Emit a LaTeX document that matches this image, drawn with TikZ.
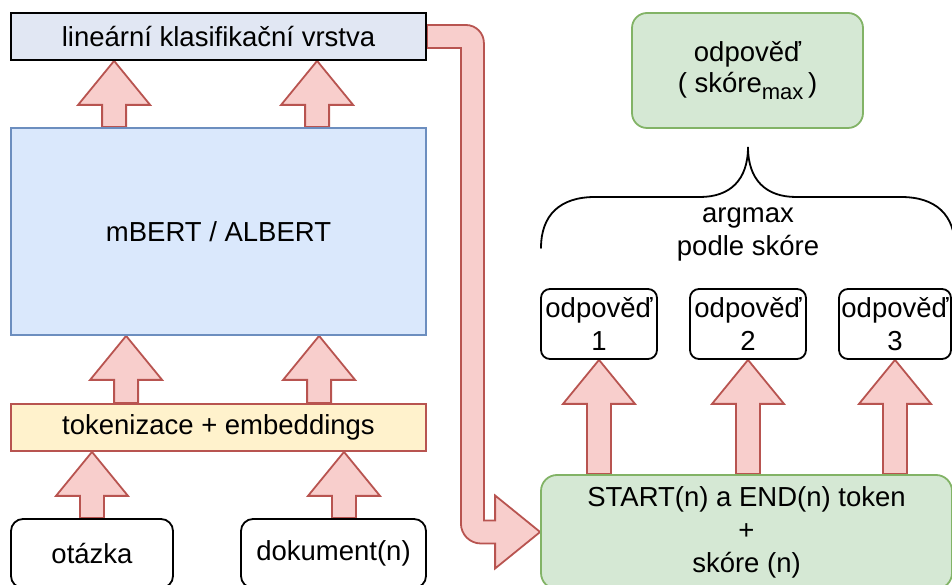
\documentclass[tikz,border=0pt]{standalone}
\usepackage{fontspec}
\setmainfont{Liberation Sans}
\usetikzlibrary{calc}
\pgfdeclarelayer{bg}
\pgfsetlayers{bg,main}

\definecolor{linfill}{HTML}{E1E7F3}
\definecolor{bluefill}{HTML}{DAE8FC}
\definecolor{bluedraw}{HTML}{6C8EBF}
\definecolor{yellowfill}{HTML}{FFF2CC}
\definecolor{redfill}{HTML}{F8CECC}
\definecolor{reddraw}{HTML}{B85450}
\definecolor{greenfill}{HTML}{D5E8D4}
\definecolor{greendraw}{HTML}{82B366}

% vertical block arrow: #1 = foot of the shaft, #2 = tip
\newcommand\blockup[2]{%
  \path[blockarrow] let \p1=#1, \p2=#2 in
    (\x1-12pt,\y1) -- (\x1-12pt,\y2-44pt) -- (\x1-36pt,\y2-44pt) -- (\x1,\y2)
    -- (\x1+36pt,\y2-44pt) -- (\x1+12pt,\y2-44pt) -- (\x1+12pt,\y1) -- cycle;}

% lowered, smaller label text
\newcommand\lowidx[1]{\raisebox{-7pt}{\fontsize{22}{22}\selectfont #1}}

\begin{document}
\begin{tikzpicture}[x=1pt,y=1pt,
  every node/.style={font=\fontsize{27.5}{33}\selectfont, align=center, inner sep=0pt, text=black},
  sqbox/.style={draw, line width=1.8pt},
  rbox/.style={draw, line width=1.8pt, rounded corners=#1},
  blockarrow/.style={draw=reddraw, fill=redfill, line width=1.8pt, line join=miter}]
\useasboundingbox (0,0) rectangle (952,585);

% left column
\node[sqbox, fill=linfill, minimum width=415pt, minimum height=47pt] (lin) at (218.5,548.5) {lineární klasifikační vrstva};
\node[sqbox, draw=bluedraw, fill=bluefill, minimum width=415pt, minimum height=207pt] (mbert) at (218.5,353.5) {mBERT / ALBERT};
\node[sqbox, draw=reddraw, fill=yellowfill, minimum width=415pt, minimum height=47pt] (tok) at (218.5,157.5) {tokenizace + embeddings};
\node[rbox=12pt, minimum width=162pt, minimum height=69pt] (otazka) at (92,31.5) {otázka};
\node[rbox=12pt, minimum width=185pt, minimum height=69pt] (dok) at (333.5,31.5) {dokument(n)};

% right column
\node[rbox=16pt, draw=greendraw, fill=greenfill, minimum width=411pt, minimum height=114pt] (start) at (746.5,53)
  {START(n) a END(n) token\\+\\skóre (n)};
\node[rbox=9pt, minimum width=116pt, minimum height=70pt] (o1) at (599,261) {odpověď\\1};
\node[rbox=9pt, minimum width=116pt, minimum height=70pt] (o2) at (748,261) {odpověď\\2};
\node[rbox=9pt, minimum width=112pt, minimum height=70pt] (o3) at (895,261) {odpověď\\3};
\node[rbox=15pt, draw=greendraw, fill=greenfill, minimum width=231pt, minimum height=115pt] (res) at (747.5,514.5)
  {odpověď\\[-2pt]( skóre\lowidx{max}\,)};
\node (argmax) at (748,351) {argmax\\podle skóre};

% curly brace gathering the candidate answers
\draw[line width=1.8pt, line cap=round]
  (541,337) .. controls (541,370) and (560,388) .. (595,388) -- (700,388)
  .. controls (730,388) and (748,405) .. (748,438)
  .. controls (748,405) and (766,388) .. (796,388) -- (901,388)
  .. controls (936,388) and (955,370) .. (955,337);

\begin{pgfonlayer}{bg}
  \blockup{([xshift=104pt]mbert.north west)}{([xshift=104pt]lin.south west)}
  \blockup{([xshift=307pt]mbert.north west)}{([xshift=307pt]lin.south west)}
  \blockup{([xshift=116pt]tok.north west)}{([xshift=116pt]mbert.south west)}
  \blockup{([xshift=309pt]tok.north west)}{([xshift=309pt]mbert.south west)}
  \blockup{(otazka.north)}{(otazka.north |- tok.south)}
  \blockup{([xshift=10.5pt]dok.north)}{([xshift=10.5pt]dok.north |- tok.south)}
  \blockup{(o1.south |- start.north)}{(o1.south)}
  \blockup{(o2.south |- start.north)}{(o2.south)}
  \blockup{(o3.south |- start.north)}{(o3.south)}
  % bent arrow from the classifier to the span output
  \path[blockarrow] let \p1=(lin.east), \p2=(start.west) in
    (\x1,\y1+11.5pt) -- (\x1+39pt,\y1+11.5pt) arc[start angle=90,end angle=0,radius=18pt]
    -- (\x1+57pt,\y2+11.5pt) -- (\x2-45pt,\y2+11.5pt) -- (\x2-45pt,\y2+36.5pt) -- (\x2,\y2)
    -- (\x2-45pt,\y2-36.5pt) -- (\x2-45pt,\y2-11.5pt) -- (\x1+54pt,\y2-11.5pt)
    arc[start angle=270,end angle=180,radius=20pt] -- (\x1+34pt,\y1-11.5pt) -- (\x1,\y1-11.5pt) -- cycle;
\end{pgfonlayer}
\end{tikzpicture}
\end{document}
